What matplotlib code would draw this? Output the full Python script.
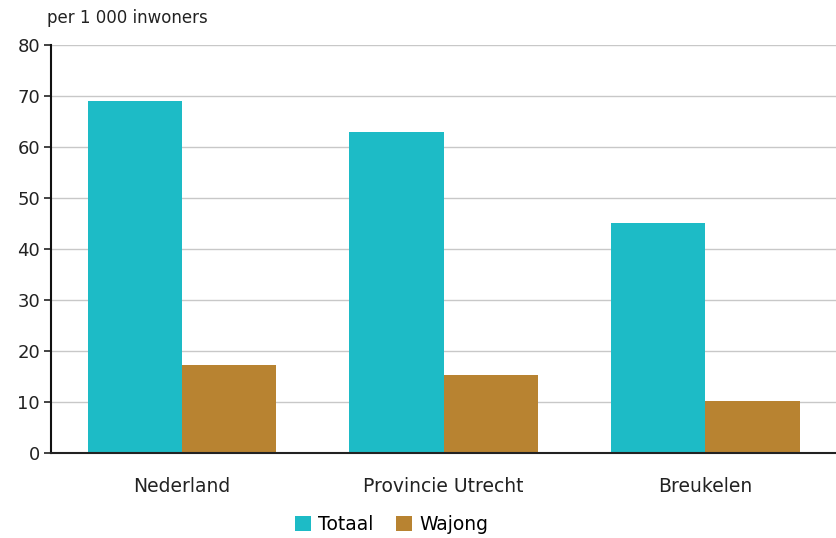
import matplotlib.pyplot as plt
import numpy as np

categories = ["Nederland", "Provincie Utrecht", "Breukelen"]
totaal = [69.0, 63.0, 45.2]
wajong = [17.3, 15.3, 10.2]

TEAL = "#1dbbc6"
BROWN = "#b88331"

fig = plt.figure(figsize=(8.37, 5.38), dpi=100)
ax = fig.add_axes([0.061, 0.158, 0.938, 0.758])

x = np.arange(len(categories))
w = 0.36
ax.bar(x - w / 2, totaal, w, color=TEAL, label="Totaal", zorder=2)
ax.bar(x + w / 2, wajong, w, color=BROWN, label="Wajong", zorder=2)

ax.set_xlim(-0.5, 2.5)
ax.set_ylim(0, 80)
ax.set_yticks(range(0, 81, 10))
ax.yaxis.grid(True, color="#c8c8c8", linewidth=1.0, zorder=0)
ax.set_axisbelow(True)

for s in ["top", "right"]:
    ax.spines[s].set_visible(False)
ax.spines["left"].set_linewidth(1.5)
ax.spines["bottom"].set_linewidth(1.5)
ax.spines["left"].set_color("#111111")
ax.spines["bottom"].set_color("#222222")

ax.set_xticks(x)
ax.set_xticklabels(categories, fontsize=13.5, color="#222222")
ax.tick_params(axis="x", length=0, pad=17)
ax.tick_params(axis="y", length=5, width=1.2, labelsize=13, pad=3, colors="#222222")

fig.text(0.056, 0.966, "per 1 000 inwoners", fontsize=12, color="#222222", va="center")

fig.legend(loc="center", bbox_to_anchor=(0.468, 0.025), ncol=2, frameon=False,
           fontsize=13.5, handlelength=0.85, handleheight=0.85, handletextpad=0.4,
           columnspacing=1.2)

fig.savefig("out.png", dpi=100)
